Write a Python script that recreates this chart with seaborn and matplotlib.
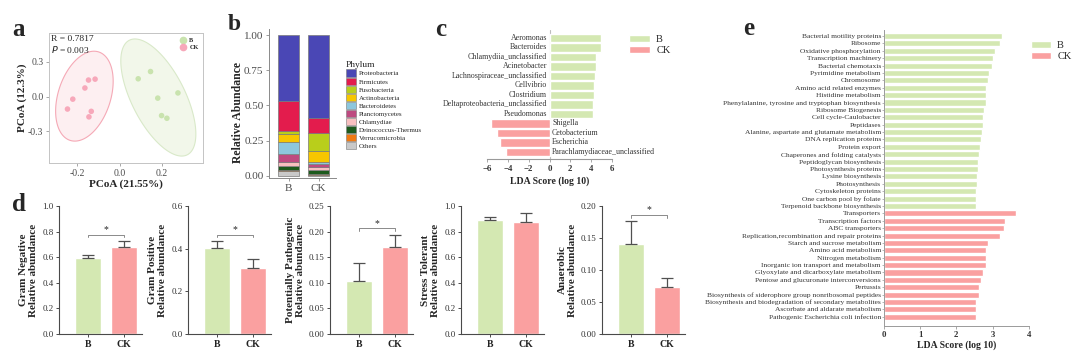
import numpy as np
import pandas as pd
import matplotlib
matplotlib.use("Agg")
import matplotlib.pyplot as plt
from matplotlib.patches import Polygon, Patch
from matplotlib.lines import Line2D
import seaborn as sns

# ---------------- data ----------------
pcoa_b_x = [0.146, 0.088, 0.180, 0.275, 0.198, 0.223]
pcoa_b_y = [0.217, 0.154, -0.014, 0.031, -0.166, -0.189]
pcoa_ck_x = [-0.146, -0.115, -0.163, -0.220, -0.245, -0.133, -0.144]
pcoa_ck_y = [0.143, 0.151, 0.074, -0.023, -0.109, -0.129, -0.177]

phyla = ["Proteobacteria", "Firmicutes", "Fusobacteria", "Actinobacteria", "Bacteroidetes",
         "Planctomycetes", "Chlamydiae", "Deinococcus-Thermus", "Verrucomicrobia", "Others"]
phylum_b = [0.465, 0.218, 0.021, 0.052, 0.090, 0.055, 0.028, 0.028, 0.007, 0.036]
phylum_ck = [0.586, 0.109, 0.130, 0.075, 0.014, 0.022, 0.022, 0.030, 0.004, 0.008]
phylum_colors = ["#4A47B5", "#E31C4D", "#B9CE1B", "#F7C600", "#8DC7DD",
                 "#BE4A80", "#F8BFC0", "#1D5A1D", "#F07A12", "#C9C9C9"]

lefse_taxa = ["Aeromonas", "Bacteroides", "Chlamydiia_unclassified", "Acinetobacter",
              "Lachnospiraceae_unclassified", "Cellvibrio", "Clostridium",
              "Deltaproteobacteria_unclassified", "Pseudomonas", "Shigella",
              "Cetobacterium", "Escherichia", "Parachlamydiaceae_unclassified"]
lefse_scores = [4.94, 4.93, 4.45, 4.43, 4.35, 4.24, 4.24, 4.20, 4.14, -5.58, -5.03, -4.78, -4.13]
lefse_groups = ["B"] * 9 + ["CK"] * 4

kegg_terms = ["Bacterial motility proteins", "Ribosome", "Oxidative phosphorylation",
              "Transcription machinery", "Bacterial chemotaxis", "Pyrimidine metabolism",
              "Chromosome", "Amino acid related enzymes", "Histidine metabolism",
              "Phenylalanine, tyrosine and tryptophan biosynthesis", "Ribosome Biogenesis",
              "Cell cycle-Caulobacter", "Peptidases",
              "Alanine, aspartate and glutamate metabolism", "DNA replication proteins",
              "Protein export", "Chaperones and folding catalysts", "Peptidoglycan biosynthesis",
              "Photosynthesis proteins", "Lysine biosynthesis", "Photosynthesis",
              "Cytoskeleton proteins", "One carbon pool by folate",
              "Terpenoid backbone biosynthesis",
              "Transporters", "Transcription factors", "ABC transporters",
              "Replication,recombination and repair proteins", "Starch and sucrose metabolism",
              "Amino acid metabolism", "Nitrogen metabolism",
              "Inorganic ion transport and metabolism",
              "Glyoxylate and dicarboxylate metabolism",
              "Pentose and glucuronate interconversions", "Pertussis",
              "Biosynthesis of siderophore group nonribosomal peptides",
              "Biosynthesis and biodegradation of secondary metabolites",
              "Ascorbate and aldarate metabolism", "Pathogenic Escherichia coli infection"]
kegg_scores = [3.26, 3.20, 3.06, 3.00, 2.99, 2.89, 2.87, 2.83, 2.82, 2.81, 2.77, 2.75, 2.75,
               2.71, 2.68, 2.65, 2.63, 2.59, 2.59, 2.58, 2.56, 2.54, 2.53, 2.53,
               3.65, 3.34, 3.33, 3.21, 2.87, 2.83, 2.82, 2.81, 2.74, 2.69, 2.63, 2.62,
               2.54, 2.53, 2.53]
kegg_groups = ["B"] * 24 + ["CK"] * 15

func_traits = ["Gram Negative", "Gram Positive", "Potentially Pathogenic",
               "Stress Tolerant", "Anaerobic"]
func_b_mean = [0.592, 0.405, 0.104, 0.888, 0.141]
func_b_sd = [0.026, 0.030, 0.034, 0.029, 0.035]
func_ck_mean = [0.683, 0.309, 0.169, 0.878, 0.0736]
func_ck_sd = [0.044, 0.041, 0.025, 0.067, 0.0134]
func_signif = [True, True, True, False, True]
func_ymax = [1.0, 0.6, 0.25, 1.0, 0.20]
func_ystep = [0.2, 0.2, 0.05, 0.2, 0.05]
func_fmt = ["{:.1f}", "{:.1f}", "{:.2f}", "{:.1f}", "{:.2f}"]

groups = ["B", "CK"]

# ---------------- style ----------------
sns.set_theme(style="ticks")
plt.rcParams["font.family"] = ["Liberation Serif", "DejaVu Serif"]
plt.rcParams["axes.linewidth"] = 0.8

GREEN = "#D4E8B2"
RED = "#FAA0A0"
pal = {"B": GREEN, "CK": RED}

W, H = 1080, 351
fig = plt.figure(figsize=(W / 100, H / 100), dpi=100)


def px_axes(l, t, r, b):
    return fig.add_axes([l / W, 1 - b / H, (r - l) / W, (b - t) / H])


def panel_label(x, y, s, size=18):
    fig.text(x / W, 1 - y / H, s, fontsize=size, fontweight="bold", ha="left", va="top")


# ---------------- panel a ----------------
ax = px_axes(49, 33, 203, 163)
pdf = pd.DataFrame({"x": pcoa_b_x + pcoa_ck_x, "y": pcoa_b_y + pcoa_ck_y,
                    "g": ["B"] * len(pcoa_b_x) + ["CK"] * len(pcoa_ck_x)})


def cov_trob(pts, nu=5, maxit=25, tol=0.01):
    # robust multivariate t estimate (as MASS::cov.trob, used by ggplot2 stat_ellipse)
    n, p = pts.shape
    loc = pts.mean(axis=0)
    w = np.ones(n)
    X = pts - loc
    for _ in range(maxit):
        w0 = w
        X = pts - loc
        _, d, vt = np.linalg.svd(np.sqrt(w / w.sum())[:, None] * X, full_matrices=False)
        wX = X @ vt.T @ np.diag(1 / d)
        Q = (wX ** 2).sum(axis=1)
        w = (nu + p) / (nu + Q)
        loc = (w[:, None] * pts).sum(axis=0) / w.sum()
        if np.all(np.abs(w - w0) < tol):
            break
    cov = (np.sqrt(w)[:, None] * X).T @ (np.sqrt(w)[:, None] * X) / n
    return loc, cov


def conf_ellipse(x, y, fc, ec):
    pts = np.column_stack([x, y])
    n = len(pts)
    center, shape = cov_trob(pts)
    d2 = n - 1
    fq = (d2 / 2.0) * (0.05 ** (-2.0 / d2) - 1.0)
    r = np.sqrt(2 * fq)
    chol = np.linalg.cholesky(shape).T
    ang = np.linspace(0, 2 * np.pi, 121)
    circ = np.column_stack([np.cos(ang), np.sin(ang)])
    ell = center + r * circ @ chol
    ax.add_patch(Polygon(ell, closed=True, facecolor=fc, edgecolor=ec, lw=0.8, zorder=1))


conf_ellipse(pcoa_ck_x, pcoa_ck_y, "#FDEFF1", "#F5A9B6")
conf_ellipse(pcoa_b_x, pcoa_b_y, "#F2F7EA", "#D9E9C9")
PTS = {"B": "#C9E3AE", "CK": "#F7A8BA"}
sns.scatterplot(data=pdf, x="x", y="y", hue="g", palette=PTS, s=16, edgecolor="none",
                legend=False, ax=ax, zorder=3)
ax.set_xlim(-0.332, 0.393)
ax.set_ylim(-0.578, 0.552)
ax.set_xticks([-0.2, 0.0, 0.2])
ax.set_xticklabels(["-0.2", "0.0", "0.2"])
ax.set_yticks([-0.3, 0.0, 0.3])
ax.set_yticklabels(["-0.3", "0.0", "0.3"])
ax.tick_params(labelsize=7, colors="#9A9A9A", labelcolor="#4D4D4D", length=2.5, width=0.6, pad=1.5)
for s in ax.spines.values():
    s.set_color("#C4C4C4"); s.set_linewidth(0.7)
ax.set_xlabel("PCoA (21.55%)", fontsize=8, fontweight="bold", labelpad=1)
ax.set_ylabel("PCoA (12.3%)", fontsize=8, fontweight="bold", labelpad=1)
ax.text(0.015, 0.985, "R = 0.7817", transform=ax.transAxes, fontsize=6.8, va="top", ha="left")
ax.text(0.015, 0.915, "$\\mathit{P}$ = 0.003", transform=ax.transAxes, fontsize=6.8, va="top", ha="left")
hs = [Line2D([], [], marker="o", ls="", color=PTS[g], markersize=4.5) for g in groups]
ax.legend(hs, groups, loc="upper right", frameon=False, handletextpad=0.1,
          labelspacing=0.3, borderaxespad=0.3, prop={"size": 4.5, "weight": "bold"})
panel_label(12, 18, "a")

# ---------------- panel b ----------------
ax = px_axes(269, 29, 336, 178)
bottoms = [0.0, 0.0]
stack_order = list(range(len(phyla)))[::-1]
for i in stack_order:
    vals = [phylum_b[i], phylum_ck[i]]
    ax.bar([0, 1], vals, bottom=bottoms, width=0.7, color=phylum_colors[i],
           edgecolor="#7A7A7A", linewidth=0.5, label=phyla[i])
    bottoms = [bottoms[0] + vals[0], bottoms[1] + vals[1]]
ax.set_xlim(-0.65, 1.58)
ax.set_ylim(-0.015, 1.043)
ax.set_xticks([0, 1]); ax.set_xticklabels(groups)
ax.set_yticks([0, 0.25, 0.5, 0.75, 1.0])
ax.set_yticklabels(["0.00", "0.25", "0.50", "0.75", "1.00"])
sns.despine(ax=ax)
for s in ["left", "bottom"]:
    ax.spines[s].set_color("#8A8A8A"); ax.spines[s].set_linewidth(0.7)
ax.tick_params(labelsize=8, colors="#8A8A8A", labelcolor="#4D4D4D", length=2.5, width=0.6, pad=1.5)
ax.set_ylabel("Relative Abundance", fontsize=8.5, fontweight="bold", labelpad=0)
ax.yaxis.set_label_coords(-0.38, 0.44)
handles = [Patch(facecolor=phylum_colors[i], edgecolor="#7A7A7A", linewidth=0.4) for i in range(len(phyla))]
fig.legend(handles, phyla, loc="upper left", bbox_to_anchor=(343 / W, 1 - 58 / H),
           title="Phylum", frameon=False, prop={"size": 5.0}, title_fontsize=6.8,
           handlelength=1.4, handleheight=1.25, labelspacing=0.1, handletextpad=0.5,
           borderaxespad=0, alignment="left")
panel_label(228, 14, "b", size=17)

# ---------------- panel c ----------------
ax = px_axes(487, 30, 612, 159)
cdf = pd.DataFrame({"taxon": lefse_taxa, "score": lefse_scores, "group": lefse_groups})
sns.barplot(data=cdf, y="taxon", x="score", hue="group", palette=pal, dodge=False,
            width=0.85, orient="h", legend=False, ax=ax, saturation=1)
ax.set_xlim(-6, 6)
ax.set_ylim(len(lefse_taxa) - 0.263, -0.842)
ax.set_yticks([])
ax.set_ylabel("")
for i, (t, v) in enumerate(zip(lefse_taxa, lefse_scores)):
    if v > 0:
        ax.text(-0.25, i, t, ha="right", va="center", fontsize=5.7, color="#333333")
    else:
        ax.text(0.25, i, t, ha="left", va="center", fontsize=5.7, color="#333333")
ax.axvline(0, color="#BDBDBD", lw=0.8, zorder=0)
sns.despine(ax=ax, left=True)
ax.spines["bottom"].set_bounds(-6, 6)
ax.spines["bottom"].set_color("#9A9A9A")
ax.set_xticks([-6, -4, -2, 0, 2, 4, 6])
ax.tick_params(axis="x", labelsize=6.3, length=2.5, width=0.6, colors="#9A9A9A",
               labelcolor="#333333", pad=1.5)
for lab in ax.get_xticklabels():
    lab.set_fontweight("bold")
ax.set_xlabel("LDA Score (log 10)", fontsize=7, fontweight="bold", labelpad=3)
hs = [Patch(facecolor=pal[g]) for g in groups]
fig.legend(hs, groups, loc="upper left", bbox_to_anchor=(625 / W, 1 - 31 / H), frameon=False,
           prop={"size": 7.5}, handlelength=2.0, handleheight=0.7, labelspacing=0.15,
           borderaxespad=0, handletextpad=0.6)
panel_label(435, 18, "c")

# ---------------- panel e ----------------
ax = px_axes(884, 30, 1028.7, 325.7)
edf = pd.DataFrame({"term": kegg_terms, "score": kegg_scores, "group": kegg_groups})
sns.barplot(data=edf, y="term", x="score", hue="group", palette=pal, dodge=False,
            width=0.82, orient="h", legend=False, ax=ax, saturation=1)
ax.set_xlim(0, 4)
ax.set_ylim(len(kegg_terms) + 0.2, -0.81)
ax.set_ylabel("")
sns.despine(ax=ax)
ax.spines["bottom"].set_bounds(0, 4)
for s in ["left", "bottom"]:
    ax.spines[s].set_color("#9A9A9A"); ax.spines[s].set_linewidth(0.7)
ax.tick_params(axis="y", labelsize=5.4, length=1.2, width=0.5, colors="#9A9A9A",
               labelcolor="#333333", pad=1)
ax.set_xticks([0, 1, 2, 3, 4])
ax.tick_params(axis="x", labelsize=6.3, length=2.5, width=0.6, colors="#9A9A9A",
               labelcolor="#333333", pad=1.5)
for lab in ax.get_xticklabels():
    lab.set_fontweight("bold")
ax.set_xlabel("LDA Score (log 10)", fontsize=7, fontweight="bold", labelpad=1)
fig.legend(hs, groups, loc="upper left", bbox_to_anchor=(1027 / W, 1 - 37 / H), frameon=False,
           prop={"size": 7.5}, handlelength=1.9, handleheight=0.7, labelspacing=0.15,
           borderaxespad=0, handletextpad=0.6)
panel_label(743, 17, "e")

# ---------------- panel d ----------------
spine_x = [59, 188, 330, 461, 602]
ERR = "#505050"
for k in range(len(func_traits)):
    ax = px_axes(spine_x[k], 206, spine_x[k] + 83, 334)
    ddf = pd.DataFrame({"g": groups, "v": [func_b_mean[k], func_ck_mean[k]]})
    sds = [func_b_sd[k], func_ck_sd[k]]
    sns.barplot(data=ddf, x="g", y="v", hue="g", palette=pal, legend=False, width=0.72,
                ax=ax, saturation=1, errorbar=None)
    for j, g in enumerate(groups):
        ax.errorbar(j, ddf["v"][j], yerr=[[0], [sds[j]]], fmt="none", ecolor=ERR,
                    elinewidth=0.9, capsize=4.5, capthick=0.9, zorder=1)
    ymax = func_ymax[k]
    ax.set_ylim(0, ymax)
    ax.set_xlim(-0.8, 1.5)
    ticks = np.arange(0, ymax + 1e-9, func_ystep[k])
    ax.set_yticks(ticks)
    ax.set_yticklabels([func_fmt[k].format(t) for t in ticks])
    sns.despine(ax=ax)
    for s in ["left", "bottom"]:
        ax.spines[s].set_color("#4A4A4A"); ax.spines[s].set_linewidth(0.8)
    ax.tick_params(axis="y", labelsize=6.5, length=2.5, width=0.7, colors="#4A4A4A",
                   labelcolor="#333333", pad=1.5)
    ax.tick_params(axis="x", labelsize=7, length=2.5, width=0.7, colors="#4A4A4A",
                   labelcolor="#222222", pad=1.5)
    for lab in ax.get_xticklabels():
        lab.set_fontweight("bold")
    ax.set_xlabel("")
    ax.set_ylabel(func_traits[k] + "\nRelative abundance", fontsize=8, fontweight="bold",
                  labelpad=3, linespacing=1.1)
    if func_signif[k]:
        top = max(func_b_mean[k] + func_b_sd[k], func_ck_mean[k] + func_ck_sd[k])
        yb = top + 0.05 * ymax
        dy = 0.02 * ymax
        ax.plot([0, 0, 1, 1], [yb - dy, yb, yb, yb - dy], color="#8A8A8A", lw=0.7,
                clip_on=False)
        ax.text(0.5, yb + 0.005 * ymax, "*", ha="center", va="bottom", fontsize=7)
panel_label(12, 193, "d")

fig.savefig("out.png", dpi=100)
